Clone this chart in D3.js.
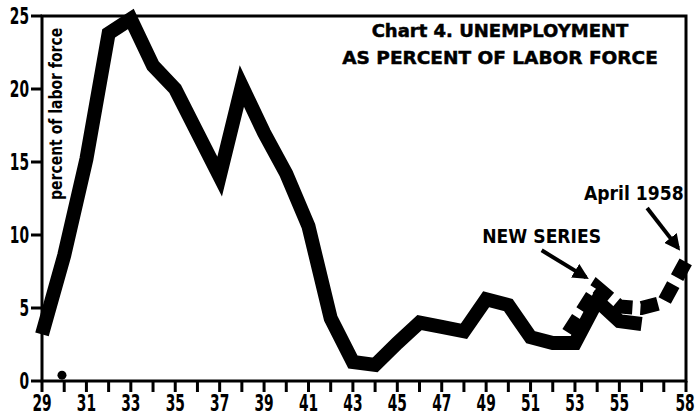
<html>
<head>
<meta charset="utf-8">
<script type="text/javascript" src="https://cdnjs.cloudflare.com/ajax/libs/d3/7.8.5/d3.min.js"></script>
<style>
  body { margin: 0; background: #fff; }
  text { font-family: "DejaVu Sans", sans-serif; font-weight: bold; fill: #000; }
</style>
</head>
<body>
<div id="chart"></div>
<script type="text/javascript">
// old series, annual averages 1929-1956
var oldYears  = [29, 30, 31, 32, 33, 34, 35, 36, 37, 38, 39, 40, 41, 42, 43, 44, 45, 46, 47, 48, 49, 50, 51, 52, 53, 54, 55, 56];
var oldValues = [3.2, 8.6, 15.2, 23.8, 24.8, 21.6, 20.0, 17.0, 14.0, 20.2, 17.0, 14.2, 10.6, 4.3, 1.3, 1.1, 2.6, 4.0, 3.7, 3.4, 5.6, 5.2, 3.0, 2.6, 2.6, 5.5, 4.1, 3.9];

// new series 1953 - April 1958
var newYears  = [52.7, 54, 55, 56, 57, 58];
var newValues = [3.3, 6.4, 5.1, 5.0, 5.4, 8.2];

var xTickYears  = d3.range(29, 59);
var xLabelYears = [29, 31, 33, 35, 37, 39, 41, 43, 45, 47, 49, 51, 53, 55, 58];
var yTicks      = [0, 5, 10, 15, 20, 25];

var dotYears  = [29.9];
var dotValues = [0.4];

// annotations: label and arrow from/to in data units
var notes = [
  { text: "NEW SERIES", tx: 51.5, ty: 9.45, fromX: 51.5, fromY: 8.95, toX: 53.5, toY: 7.1 },
  { text: "April 1958", tx: 55.65, ty: 12.4, fromX: 56.25, fromY: 11.85, toX: 57.65, toY: 9.1 }
];

var W = 696, H = 420;
var x = d3.scaleLinear().domain([29, 58]).range([42, 686]);
var y = d3.scaleLinear().domain([0, 25]).range([381, 16]);

var svg = d3.select("#chart").append("svg")
    .attr("width", W)
    .attr("height", H);

// squeezed bold text, the print uses a condensed face
function ctext(px, py, size, sx, anchor, txt, rot) {
  return svg.append("text")
      .attr("transform", "translate(" + px + "," + py + ")" + (rot ? " rotate(" + rot + ")" : "") + " scale(" + sx + ",1)")
      .attr("font-size", size)
      .attr("text-anchor", anchor)
      .text(txt);
}

svg.append("defs").append("marker")
    .attr("id", "head")
    .attr("viewBox", "0 0 10 10")
    .attr("refX", 8).attr("refY", 5)
    .attr("markerWidth", 4).attr("markerHeight", 4)
    .attr("orient", "auto")
  .append("path")
    .attr("d", "M0,0 L10,5 L0,10 z")
    .attr("fill", "#000");

// frame
svg.append("rect")
    .attr("x", x(29)).attr("y", y(25))
    .attr("width", x(58) - x(29)).attr("height", y(0) - y(25))
    .attr("fill", "none")
    .attr("stroke", "#000")
    .attr("stroke-width", 3);

// x ticks
svg.selectAll("line.xt").data(xTickYears).enter().append("line")
    .attr("class", "xt")
    .attr("x1", function(d) { return x(d); })
    .attr("x2", function(d) { return x(d); })
    .attr("y1", y(0)).attr("y2", y(0) + 11)
    .attr("stroke", "#000")
    .attr("stroke-width", 3);

xLabelYears.forEach(function(d) {
  ctext(d === 58 ? x(d) - 1 : x(d), 411, 23, 0.6, "middle", d);
});

// y ticks
svg.selectAll("line.yt").data(yTicks).enter().append("line")
    .attr("class", "yt")
    .attr("x1", x(29) - 11).attr("x2", x(29))
    .attr("y1", function(d) { return y(d); })
    .attr("y2", function(d) { return y(d); })
    .attr("stroke", "#000")
    .attr("stroke-width", 3);

yTicks.forEach(function(d) {
  ctext(29, y(d) + 8, 23, 0.6, "end", d);
});

ctext(62, 200, 17.5, 0.8, "start", "percent of labor force", -90);

// title
svg.append("text")
    .attr("x", 500).attr("y", 37)
    .attr("text-anchor", "middle")
    .attr("font-size", 18)
    .attr("stroke", "#000").attr("stroke-width", 0.5)
    .text("Chart 4.  UNEMPLOYMENT");
svg.append("text")
    .attr("x", 500).attr("y", 64)
    .attr("text-anchor", "middle")
    .attr("font-size", 18.5)
    .attr("stroke", "#000").attr("stroke-width", 0.5)
    .text("AS PERCENT OF LABOR FORCE");

// series
var line = d3.line()
    .x(function(d) { return x(d[0]); })
    .y(function(d) { return y(d[1]); });

svg.append("path")
    .attr("d", line(d3.zip(oldYears, oldValues)))
    .attr("fill", "none")
    .attr("stroke", "#000")
    .attr("stroke-width", 14)
    .attr("stroke-linejoin", "miter")
    .attr("stroke-miterlimit", 3);

svg.append("path")
    .attr("d", line(d3.zip(newYears, newValues)))
    .attr("fill", "none")
    .attr("stroke", "#000")
    .attr("stroke-width", 14)
    .attr("stroke-dasharray", "18,8")
    .attr("stroke-linejoin", "miter");

svg.selectAll("circle.dot").data(d3.zip(dotYears, dotValues)).enter().append("circle")
    .attr("class", "dot")
    .attr("cx", function(d) { return x(d[0]); })
    .attr("cy", function(d) { return y(d[1]); })
    .attr("r", 4.5)
    .attr("fill", "#000");

// annotations
notes.forEach(function(n) {
  ctext(x(n.tx), y(n.ty), 20, 0.86, "middle", n.text);
  svg.append("line")
      .attr("x1", x(n.fromX)).attr("y1", y(n.fromY))
      .attr("x2", x(n.toX)).attr("y2", y(n.toY))
      .attr("stroke", "#000")
      .attr("stroke-width", 4)
      .attr("marker-end", "url(#head)");
});
</script>
</body>
</html>
